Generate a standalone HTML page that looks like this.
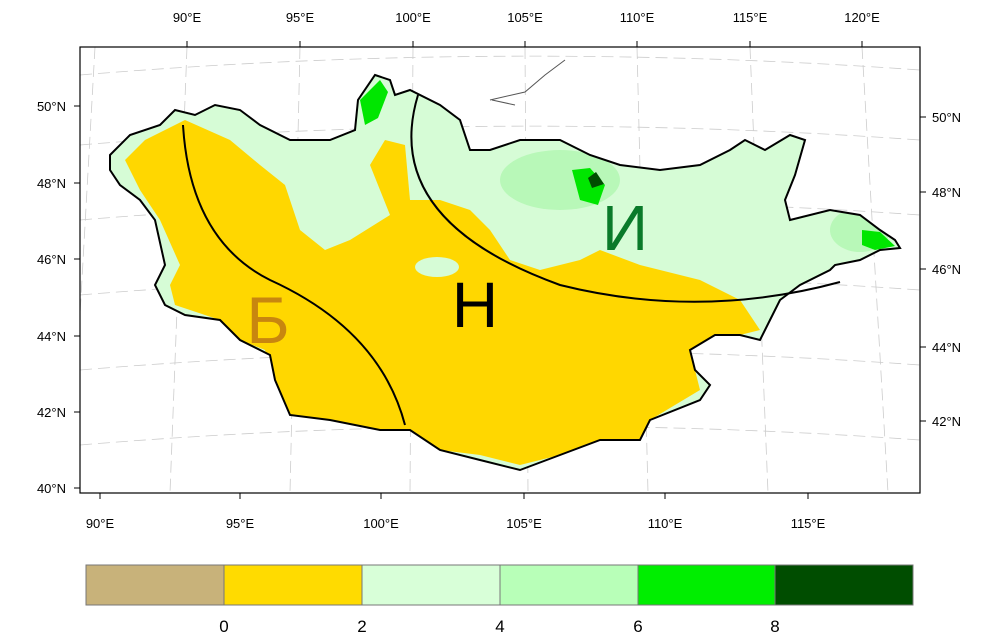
<!DOCTYPE html>
<html><head><meta charset="utf-8"><style>
body{margin:0;background:#fff;}
svg{display:block;font-family:"Liberation Sans",sans-serif;}
</style></head><body>
<svg width="1000" height="637" viewBox="0 0 1000 637">
<defs><clipPath id="c"><rect x="80" y="47" width="840" height="446"/></clipPath>
<clipPath id="mn"><polygon id="mp" points="110,155 130,135 160,125 175,110 195,115 215,105 240,110 260,125 290,140 330,140 355,130 358,100 375,75 390,80 395,95 410,90 440,105 460,120 470,150 490,150 520,140 560,140 590,155 620,165 660,170 700,165 730,150 745,140 765,150 790,135 805,140 795,175 785,200 790,220 830,210 860,215 880,230 895,240 900,248 880,250 860,260 835,265 830,270 800,285 780,300 770,320 760,340 740,335 715,335 690,350 695,370 710,385 700,400 650,420 640,440 600,440 560,455 520,470 480,460 440,450 410,430 380,430 330,420 290,415 275,380 270,355 240,340 220,320 185,315 165,305 155,285 165,265 155,220 140,200 120,185 110,170"/></clipPath></defs>
<g clip-path="url(#c)" stroke="#ccc" stroke-dasharray="12,6" fill="none" stroke-width="0.8">
<path d="M80,75 Q500,40 920,70"/><path d="M80,145 Q500,110 920,140"/><path d="M80,220 Q500,185 920,215"/><path d="M80,295 Q500,260 920,290"/><path d="M80,370 Q500,335 920,365"/><path d="M80,445 Q500,410 920,440"/>
<path d="M95,47 L70,493"/><path d="M187,47 L170,493"/><path d="M300,47 L290,493"/><path d="M413,47 L410,493"/><path d="M525,47 L528,493"/><path d="M637,47 L648,493"/><path d="M750,47 L768,493"/><path d="M862,47 L888,493"/>
</g>
<g clip-path="url(#mn)">
<rect x="80" y="47" width="840" height="446" fill="#d6fcd6"/>
<ellipse cx="560" cy="180" rx="60" ry="30" fill="#b8f8b8"/>
<ellipse cx="860" cy="230" rx="30" ry="22" fill="#b8f8b8"/>
<polygon points="145,140 185,120 230,140 260,165 285,185 300,230 325,250 350,240 390,215 370,165 385,140 405,145 410,200 440,200 470,210 490,230 510,260 540,270 580,260 600,250 640,265 700,280 740,300 760,330 740,335 715,335 690,350 700,390 650,420 640,440 600,440 560,455 520,465 480,455 440,450 410,430 380,430 330,420 290,415 275,380 265,350 240,340 220,320 175,305 170,285 180,265 160,220 140,190 125,160" fill="#ffd700"/>
<ellipse cx="437" cy="267" rx="22" ry="10" fill="#d6fcd6"/>
<polygon points="360,100 380,80 388,92 378,118 365,125" fill="#00e600"/>
<polygon points="572,170 590,168 605,185 598,205 580,200" fill="#00e600"/>
<polygon points="588,178 596,172 604,184 592,188" fill="#004d00"/>
<polygon points="862,230 880,232 895,246 875,250 862,245" fill="#00e600"/>
</g>
<use href="#mp" fill="none" stroke="#000" stroke-width="2"/>
<path d="M490,100 L525,92 L545,75 L565,60" fill="none" stroke="#555" stroke-width="1"/>
<path d="M492,100 L515,105" fill="none" stroke="#555" stroke-width="1"/>
<path d="M183,125 Q190,240 270,280 Q380,330 405,425" fill="none" stroke="#000" stroke-width="2"/>
<path d="M418,95 Q380,220 560,285 Q700,320 840,282" fill="none" stroke="#000" stroke-width="2"/>
<text x="268" y="343" font-size="66" fill="#c8860f" text-anchor="middle">Б</text>
<text x="475" y="327" font-size="64" fill="#000" text-anchor="middle">Н</text>
<text x="625" y="250" font-size="64" fill="#0a7a2a" text-anchor="middle">И</text>
<rect x="80" y="47" width="840" height="446" fill="none" stroke="#000" stroke-width="1.2"/>
<g font-size="13" fill="#000">
<g text-anchor="end"><text x="66" y="111">50°N</text><text x="66" y="188">48°N</text><text x="66" y="264">46°N</text><text x="66" y="341">44°N</text><text x="66" y="417">42°N</text><text x="66" y="493">40°N</text></g>
<g text-anchor="start"><text x="932" y="122">50°N</text><text x="932" y="197">48°N</text><text x="932" y="274">46°N</text><text x="932" y="352">44°N</text><text x="932" y="426">42°N</text></g>
<g text-anchor="middle"><text x="100" y="528">90°E</text><text x="240" y="528">95°E</text><text x="381" y="528">100°E</text><text x="524" y="528">105°E</text><text x="665" y="528">110°E</text><text x="808" y="528">115°E</text>
<text x="187" y="22">90°E</text><text x="300" y="22">95°E</text><text x="413" y="22">100°E</text><text x="525" y="22">105°E</text><text x="637" y="22">110°E</text><text x="750" y="22">115°E</text><text x="862" y="22">120°E</text></g>
</g>
<g stroke="#000" stroke-width="1"><path d="M74,106h6M74,183h6M74,259h6M74,336h6M74,412h6M74,488h6M920,117h6M920,192h6M920,269h6M920,347h6M920,421h6M100,493v6M240,493v6M381,493v6M524,493v6M665,493v6M808,493v6M187,41v6M300,41v6M413,41v6M525,41v6M637,41v6M750,41v6M862,41v6"/></g>
<g stroke="#777" stroke-width="1">
<rect x="86" y="565" width="138" height="40" fill="#c8b27a"/>
<rect x="224" y="565" width="138" height="40" fill="#ffdb00"/>
<rect x="362" y="565" width="138" height="40" fill="#d8ffd8"/>
<rect x="500" y="565" width="138" height="40" fill="#b8ffb8"/>
<rect x="638" y="565" width="137" height="40" fill="#00ee00"/>
<rect x="775" y="565" width="138" height="40" fill="#004d00"/>
</g>
<g font-size="17" text-anchor="middle"><text x="224" y="632">0</text><text x="362" y="632">2</text><text x="500" y="632">4</text><text x="638" y="632">6</text><text x="775" y="632">8</text></g>
</svg>
</body></html>
